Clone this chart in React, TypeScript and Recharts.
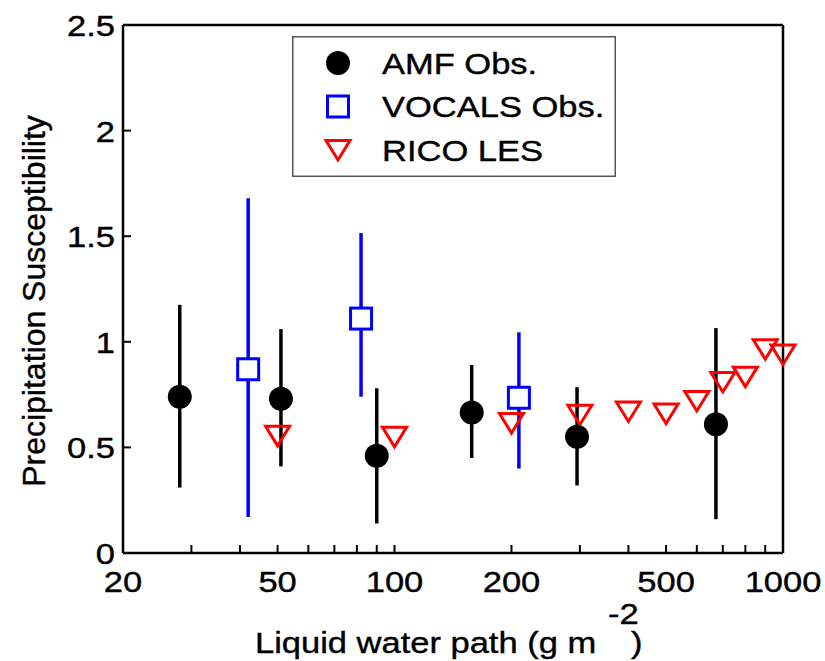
import { ScatterChart, Scatter, XAxis, YAxis, ErrorBar, Legend } from "recharts";

// AMF observations (black circles)
const amfLwp = [28, 51, 90, 158, 295, 672];
const amfS = [0.74, 0.73, 0.46, 0.665, 0.55, 0.61];
const amfLow = [0.31, 0.41, 0.14, 0.45, 0.32, 0.16];
const amfHigh = [1.175, 1.06, 0.78, 0.89, 0.785, 1.065];

// VOCALS observations (blue squares)
const vocalsLwp = [42, 82, 209];
const vocalsS = [0.87, 1.11, 0.735];
const vocalsLow = [0.17, 0.74, 0.4];
const vocalsHigh = [1.68, 1.515, 1.045];

// RICO LES (red triangles)
const ricoLwp = [50, 100, 200, 300, 400, 500, 600, 700, 800, 900, 1000];
const ricoS = [0.555, 0.55, 0.615, 0.655, 0.67, 0.66, 0.72, 0.81, 0.835, 0.965, 0.94];

const majorXTicks = [20, 50, 100, 200, 500, 1000];
const allXTicks = [20, 30, 40, 50, 60, 70, 80, 90, 100, 200, 300, 400, 500, 600, 700, 800, 900, 1000];
const yTicks = [0, 0.5, 1, 1.5, 2, 2.5];

const legendLabels = ["AMF Obs.", "VOCALS Obs.", "RICO LES"];

const FONT = '"Liberation Sans", Arial, Helvetica, sans-serif';
const STRETCH = 1.15;
const TICK = 8;
// slight outline so the text reads as heavy as in the scanned figure
const textInk = { fill: "#000", stroke: "#000", strokeWidth: 0.4 };

const toPoints = (xs: number[], ys: number[], lo?: number[], hi?: number[]) =>
  xs.map((x, i) => ({
    lwp: x,
    s: ys[i],
    err: lo && hi ? [ys[i] - lo[i], hi[i] - ys[i]] : undefined,
  }));

const amfData = toPoints(amfLwp, amfS, amfLow, amfHigh);
const vocalsData = toPoints(vocalsLwp, vocalsS, vocalsLow, vocalsHigh);
const ricoData = toPoints(ricoLwp, ricoS);

function marker(kind: number, cx: number, cy: number) {
  if (kind === 0) return <circle cx={cx} cy={cy} r={12} fill="#000" />;
  if (kind === 1)
    return <rect x={cx - 10.5} y={cy - 10.5} width={21} height={21} fill="#fff" stroke="#0000ff" strokeWidth={3} />;
  return (
    <path
      d={`M${cx - 12},${cy - 9.5} L${cx + 12},${cy - 9.5} L${cx},${cy + 10} Z`}
      fill="none"
      stroke="#ff0000"
      strokeWidth={3}
    />
  );
}

const BottomTick = ({ x, y, payload }: any) => (
  <g>
    <line x1={x} y1={y} x2={x} y2={y - TICK} stroke="#000" strokeWidth={2} />
    {majorXTicks.includes(payload.value) && (
      <text
        transform={`translate(${x} ${y + 39}) scale(${STRETCH} 1)`}
        textAnchor="middle"
        fontSize={30}
        fontFamily={FONT}
        {...textInk}
      >
        {payload.value}
      </text>
    )}
  </g>
);

const TopTick = ({ x, y }: any) => <line x1={x} y1={y} x2={x} y2={y + TICK} stroke="#000" strokeWidth={2} />;

const LeftTick = ({ x, y, payload }: any) => (
  <g>
    <line x1={x} y1={y} x2={x + TICK} y2={y} stroke="#000" strokeWidth={2} />
    <text
      transform={`translate(${x - 8} ${y + 11}) scale(${STRETCH} 1)`}
      textAnchor="end"
      fontSize={30}
      fontFamily={FONT}
      {...textInk}
    >
      {payload.value}
    </text>
  </g>
);

const RightTick = ({ x, y }: any) => <line x1={x} y1={y} x2={x - TICK} y2={y} stroke="#000" strokeWidth={2} />;

const XLabel = () => (
  <g fontFamily={FONT} fontSize={30} {...textInk}>
    <text transform={`translate(255 653) scale(${STRETCH} 1)`}>Liquid water path (g m</text>
    <text transform={`translate(608 624) scale(${STRETCH} 1)`}>-2</text>
    <text transform={`translate(631 653) scale(${STRETCH} 1)`}>)</text>
  </g>
);

const YLabel = () => (
  <text
    x={45}
    y={301}
    transform="rotate(-90 45 301)"
    textAnchor="middle"
    fontFamily={FONT}
    fontSize={32}
    {...textInk}
  >
    Precipitation Susceptibility
  </text>
);

const LegendBox = () => (
  <svg width={324} height={141} style={{ display: "block" }}>
    <rect x={0.75} y={0.75} width={322.5} height={139.5} fill="#fff" stroke="#555" strokeWidth={1.5} />
    {legendLabels.map((label, i) => {
      const cy = 27 + i * 43.5;
      return (
        <g key={label}>
          {marker(i, 46, cy)}
          <text
            transform={`translate(90 ${cy + 10.5}) scale(${STRETCH} 1)`}
            fontFamily={FONT}
            fontSize={30}
            {...textInk}
          >
            {label}
          </text>
        </g>
      );
    })}
  </svg>
);

export default function App() {
  return (
    <div style={{ position: "absolute", left: 0, top: 0, background: "#fff" }}>
      <ScatterChart width={825} height={661} margin={{ top: 5, right: 12, bottom: 8, left: 8 }}>
        <XAxis
          dataKey="lwp"
          type="number"
          scale="log"
          domain={[20, 1000]}
          ticks={allXTicks}
          interval={0}
          height={100}
          tickSize={0}
          tickMargin={0}
          tickLine={false}
          axisLine={{ stroke: "#000", strokeWidth: 2.5 }}
          tick={<BottomTick />}
          label={<XLabel />}
        />
        <XAxis
          xAxisId="top"
          orientation="top"
          dataKey="lwp"
          type="number"
          scale="log"
          domain={[20, 1000]}
          ticks={allXTicks}
          interval={0}
          height={20}
          tickSize={0}
          tickMargin={0}
          tickLine={false}
          axisLine={{ stroke: "#000", strokeWidth: 2.5 }}
          tick={<TopTick />}
        />
        <YAxis
          dataKey="s"
          type="number"
          domain={[0, 2.5]}
          ticks={yTicks}
          interval={0}
          width={115}
          tickSize={0}
          tickMargin={0}
          tickLine={false}
          axisLine={{ stroke: "#000", strokeWidth: 2.5 }}
          tick={<LeftTick />}
          label={<YLabel />}
        />
        <YAxis
          yAxisId="right"
          orientation="right"
          type="number"
          domain={[0, 2.5]}
          ticks={yTicks}
          interval={0}
          width={30}
          tickSize={0}
          tickMargin={0}
          tickLine={false}
          axisLine={{ stroke: "#000", strokeWidth: 2.5 }}
          tick={<RightTick />}
        />
        <Legend
          layout="vertical"
          align="center"
          verticalAlign="middle"
          wrapperStyle={{ left: 292, top: 36, width: 324, height: 141 }}
          content={() => <LegendBox />}
        />
        <Scatter
          name="RICO LES"
          data={ricoData}
          isAnimationActive={false}
          shape={(p: any) => marker(2, p.cx, p.cy)}
        />
        <Scatter
          name="AMF Obs."
          data={amfData}
          isAnimationActive={false}
          shape={(p: any) => marker(0, p.cx, p.cy)}
        >
          <ErrorBar dataKey="err" direction="y" width={0} stroke="#000" strokeWidth={3.5} isAnimationActive={false} />
        </Scatter>
        <Scatter
          name="VOCALS Obs."
          data={vocalsData}
          isAnimationActive={false}
          shape={(p: any) => marker(1, p.cx, p.cy)}
        >
          <ErrorBar dataKey="err" direction="y" width={0} stroke="#0000ff" strokeWidth={3.5} isAnimationActive={false} />
        </Scatter>
      </ScatterChart>
    </div>
  );
}
